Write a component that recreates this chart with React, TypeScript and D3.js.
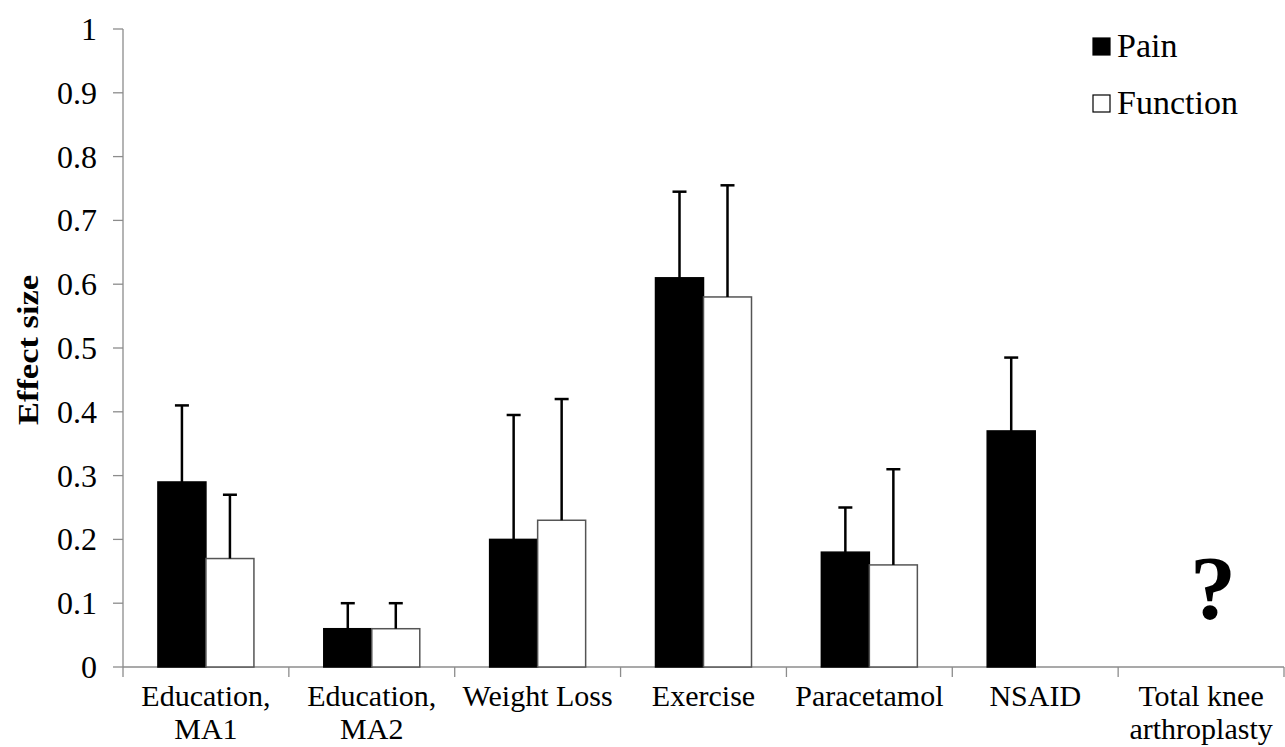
import React, { useEffect, useRef } from "react";
import * as d3 from "d3";

// categories and values
const categories = [
  ["Education,", "MA1"],
  ["Education,", "MA2"],
  ["Weight Loss"],
  ["Exercise"],
  ["Paracetamol"],
  ["NSAID"],
  ["Total knee", "arthroplasty"],
];
const painValues = [0.29, 0.06, 0.2, 0.61, 0.18, 0.37, null];
const painUpper = [0.41, 0.1, 0.395, 0.745, 0.25, 0.485, null];
const functionValues = [0.17, 0.06, 0.23, 0.58, 0.16, null, null];
const functionUpper = [0.27, 0.1, 0.42, 0.755, 0.31, null, null];
const yTicks = [0, 0.1, 0.2, 0.3, 0.4, 0.5, 0.6, 0.7, 0.8, 0.9, 1];
const seriesNames = ["Pain", "Function"];

const W = 1285;
const H = 747;
const FONT = "'Liberation Serif', 'Times New Roman', serif";

export default function App() {
  const ref = useRef<SVGSVGElement>(null);

  useEffect(() => {
    if (!ref.current) return;
    const svg = d3.select(ref.current);
    svg.selectAll("*").remove();

    const left = 123;
    const right = 1284;
    const top = 29;
    const bottom = 667;

    const x = d3.scaleBand<number>()
      .domain(categories.map((_, i) => i))
      .range([left, right]);
    const y = d3.scaleLinear().domain([0, 1]).range([bottom, top]);
    const barW = 48;

    // y axis
    svg.append("line")
      .attr("x1", left).attr("x2", left)
      .attr("y1", y(1)).attr("y2", bottom)
      .attr("stroke", "#8c8c8c").attr("stroke-width", 1.3);
    yTicks.forEach(t => {
      svg.append("line")
        .attr("x1", left - 10).attr("x2", left)
        .attr("y1", y(t)).attr("y2", y(t))
        .attr("stroke", "#8c8c8c").attr("stroke-width", 1.3);
      svg.append("text")
        .attr("x", 97).attr("y", y(t) + 11)
        .attr("text-anchor", "end")
        .attr("font-family", FONT).attr("font-size", 32)
        .text(d3.format("")(t));
    });

    // x axis
    svg.append("line")
      .attr("x1", left).attr("x2", right)
      .attr("y1", bottom).attr("y2", bottom)
      .attr("stroke", "#8c8c8c").attr("stroke-width", 1.3);
    const bounds = categories.map((_, i) => x(i)!).concat([right]);
    bounds.forEach(b => {
      svg.append("line")
        .attr("x1", b).attr("x2", b)
        .attr("y1", bottom).attr("y2", bottom + 10)
        .attr("stroke", "#8c8c8c").attr("stroke-width", 1.3);
    });

    categories.forEach((lines, i) => {
      const cx = x(i)! + x.bandwidth() / 2;
      lines.forEach((ln, k) => {
        svg.append("text")
          .attr("x", cx).attr("y", 706 + k * 33)
          .attr("text-anchor", "middle")
          .attr("font-family", FONT).attr("font-size", 30)
          .text(ln);
      });
    });

    // bars + error bars (upper only)
    const drawSeries = (vals, uppers, offset, fill) => {
      vals.forEach((v, i) => {
        if (v == null) return;
        const cx = x(i)! + x.bandwidth() / 2;
        const bx = cx + offset;
        svg.append("rect")
          .attr("x", bx).attr("y", y(v))
          .attr("width", barW).attr("height", bottom - y(v))
          .attr("fill", fill)
          .attr("stroke", fill === "#000" ? "#000" : "#555")
          .attr("stroke-width", 1.5);
        const ex = bx + barW / 2;
        const u = uppers[i];
        svg.append("line")
          .attr("x1", ex).attr("x2", ex)
          .attr("y1", y(v)).attr("y2", y(u))
          .attr("stroke", "#000").attr("stroke-width", 2.5);
        svg.append("line")
          .attr("x1", ex - 7).attr("x2", ex + 7)
          .attr("y1", y(u)).attr("y2", y(u))
          .attr("stroke", "#000").attr("stroke-width", 2.5);
      });
    };
    drawSeries(painValues, painUpper, -barW, "#000");
    drawSeries(functionValues, functionUpper, 0, "#fff");

    // question mark for TKA
    svg.append("text")
      .attr("x", x(6)! + x.bandwidth() / 2 + 12).attr("y", 619)
      .attr("text-anchor", "middle")
      .attr("font-family", FONT).attr("font-size", 92).attr("font-weight", "bold")
      .text("?");

    // y title
    svg.append("text")
      .attr("transform", `translate(38, 350) rotate(-90)`)
      .attr("text-anchor", "middle")
      .attr("font-family", FONT).attr("font-size", 30).attr("font-weight", "bold")
      .attr("textLength", 150).attr("lengthAdjust", "spacingAndGlyphs")
      .text("Effect size");

    // legend
    seriesNames.forEach((name, i) => {
      const ly = 57 + i * 57;
      svg.append("rect")
        .attr("x", 1093).attr("y", ly - 19)
        .attr("width", 17).attr("height", 17)
        .attr("fill", i === 0 ? "#000" : "#fff")
        .attr("stroke", "#000").attr("stroke-width", 1.2);
      svg.append("text")
        .attr("x", 1117).attr("y", ly)
        .attr("font-family", FONT).attr("font-size", 34)
        .text(name);
    });
  }, []);

  return (
    <svg
      ref={ref}
      width={W}
      height={H}
      style={{ position: "absolute", left: 0, top: 0, background: "#fff" }}
    />
  );
}
